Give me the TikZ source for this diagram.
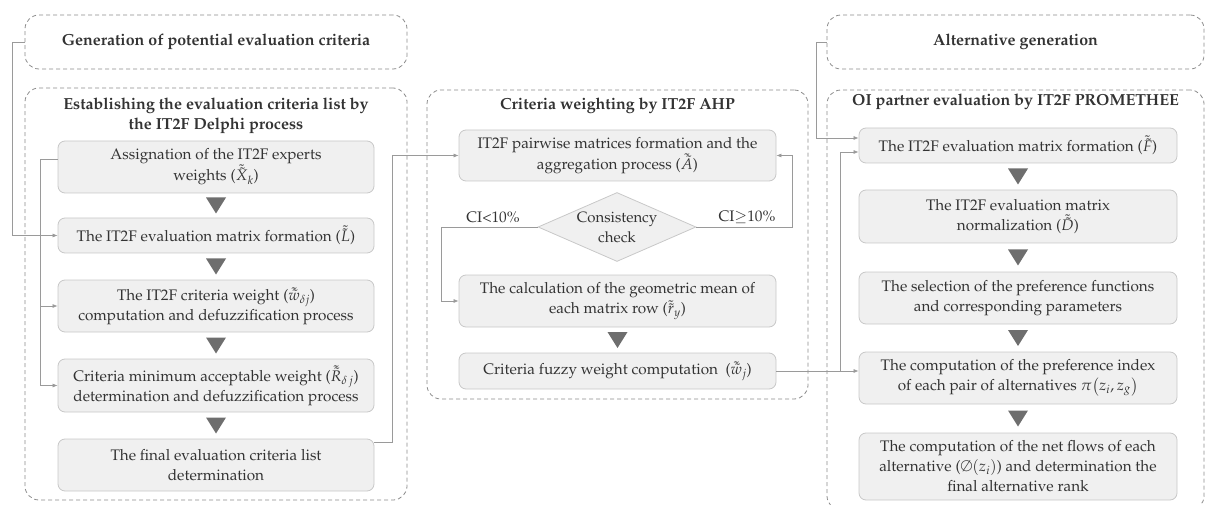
\documentclass[tikz,border=0pt]{standalone}
\usepackage[T1]{fontenc}
\usepackage{mathpazo}
\usepackage{amssymb}
\usetikzlibrary{shapes.geometric,arrows.meta,calc}
\definecolor{boxfill}{HTML}{F0F0F0}
\definecolor{boxline}{HTML}{C8C8C8}
\definecolor{tricol}{HTML}{6E6E6E}
\definecolor{dashcol}{HTML}{8C8C8C}
\definecolor{conncol}{HTML}{9A9A9A}
\definecolor{txtcol}{HTML}{333333}
\newcommand\tridown[2]{%
  \fill[tricol] ($(#1.south)!0.5!(#2.north)+(-10,-8)$) -- ($(#1.south)!0.5!(#2.north)+(10,-8)$) -- ($(#1.south)!0.5!(#2.north)+(0,8)$) -- cycle;}
\begin{document}
\begin{tikzpicture}[x=1pt,y=-1pt,
  container/.style={draw=dashcol, dash pattern=on 4pt off 3pt, rounded corners=14pt, line width=0.8pt, inner sep=0pt},
  ttl/.style={text=txtcol, align=center, font=\fontsize{16}{20}\selectfont\bfseries},
  stepbox/.style={draw=boxline, fill=boxfill, rounded corners=7pt, line width=0.8pt, text=txtcol, align=center, font=\fontsize{15.3}{20}\selectfont, inner sep=0pt},
  lbl/.style={text=txtcol, font=\fontsize{15.3}{20}\selectfont},
  conn/.style={draw=conncol, line width=0.7pt},
  arr/.style={conn, -{Latex[length=5pt,width=4pt]}}]
\useasboundingbox (0,0) rectangle (1205,505);
% ---------- left column ----------
\node[container, minimum width=382pt, minimum height=54pt] (gen) at (216,42) {};
\node[ttl] at (gen.center) {Generation of potential evaluation criteria};
\node[container, minimum width=382pt, minimum height=412pt] (cL) at (216,294) {};
\node[ttl] (tL) at (216,116) {Establishing the evaluation criteria list by\\the IT2F Delphi process};
\node[stepbox, minimum width=316pt, minimum height=52pt] (L1) at (216,167) {Assignation of the IT2F experts\\weights ($\tilde{\tilde{X}}_k$)};
\node[stepbox, minimum width=316pt, minimum height=35pt] (L2) at (216,235.5) {The IT2F evaluation matrix formation ($\tilde{\tilde{L}}$)};
\node[stepbox, minimum width=316pt, minimum height=52pt] (L3) at (216,306) {The IT2F criteria weight ($\tilde{\tilde{w}}_{\delta j}$)\\computation and defuzzification process};
\node[stepbox, minimum width=316pt, minimum height=53pt] (L4) at (216,385.5) {Criteria minimum acceptable weight ($\tilde{\tilde{R}}_{\delta\,j}$)\\determination and defuzzification process};
\node[stepbox, minimum width=316pt, minimum height=52pt] (L5) at (216,465) {The final evaluation criteria list\\determination};
\tridown{L1}{L2}
\tridown{L2}{L3}
\tridown{L3}{L4}
\tridown{L4}{L5}
% ---------- middle column ----------
\node[container, minimum width=381pt, minimum height=309pt] (cM) at (617.5,244.5) {};
\node[ttl] (tM) at (617.5,106) {Criteria weighting by IT2F AHP};
\node[stepbox, minimum width=317pt, minimum height=51pt] (A) at (617.5,155.5) {IT2F pairwise matrices formation and the\\aggregation process ($\tilde{\tilde{A}}$)};
\node[diamond, draw=boxline, fill=boxfill, line width=0.8pt, minimum width=158pt, minimum height=69pt, inner sep=0pt] (chk) at (617,227) {};
\node[text=txtcol, align=center, font=\fontsize{15}{20}\selectfont] (chkt) at (chk.center) {Consistency\\check};
\node[stepbox, minimum width=317pt, minimum height=52pt] (C) at (617.5,301) {The calculation of the geometric mean of\\each matrix row ($\tilde{\tilde{r}}_y$)};
\node[stepbox, minimum width=317pt, minimum height=36pt] (D) at (617.5,371) {Criteria fuzzy weight computation~ ($\tilde{\tilde{w}}_j$)};
\tridown{C}{D}
\node[lbl] (ci1) at (493,217) {CI\textless10\%};
\node[lbl] (ci2) at (747,217) {CI$\geq$10\%};
% ---------- right column ----------
\node[container, minimum width=377pt, minimum height=54pt] (alt) at (1015.5,42) {};
\node[ttl] at (alt.center) {Alternative generation};
\node[container, minimum width=377pt, minimum height=420pt] (cR) at (1015.5,300) {};
\node[ttl] (tR) at (1015.5,102) {OI partner evaluation by IT2F PROMETHEE};
\node[stepbox, minimum width=318pt, minimum height=35pt] (R1) at (1018,145.5) {The IT2F evaluation matrix formation ($\tilde{\tilde{F}}$)};
\node[stepbox, minimum width=318pt, minimum height=53pt] (R2) at (1018,216.5) {The IT2F evaluation matrix\\normalization ($\tilde{\tilde{D}}$)};
\node[stepbox, minimum width=318pt, minimum height=52pt] (R3) at (1018,298) {The selection of the preference functions\\and corresponding parameters};
\node[stepbox, minimum width=318pt, minimum height=52pt] (R4) at (1018,378) {The computation of the preference index\\of each pair of alternatives $\pi\bigl(z_i, z_g\bigr)$};
\node[stepbox, minimum width=318pt, minimum height=67pt] (R5) at (1018,466.5) {The computation of the net flows of each\\alternative ($\emptyset(z_i)$) and determination the\\final alternative rank};
\tridown{R1}{R2}
\tridown{R2}{R3}
\tridown{R3}{R4}
\tridown{R4}{R5}
% ---------- connectors ----------
\coordinate (j0) at (12,0);
\coordinate (j1) at (40,0);
\coordinate (j2) at (392,0);
\coordinate (j3) at (441,0);
\coordinate (j4) at (792,0);
\coordinate (j5) at (840,0);
\coordinate (j6) at (816,0);
\draw[arr] (gen.west) -- (gen.west -| j0) |- (L2.west);
\draw[arr] ([yshift=8pt]L1.west) -- ([yshift=8pt]L1.west -| j1) |- (L4.west);
\draw[arr] (j1 |- L3.west) -- (L3.west);
\draw[arr] ([yshift=23pt]L5.east) -- ([yshift=23pt]L5.east -| j2) |- (A.west);
\draw[arr] (chk.west) -- (chk.west -| j3) |- (C.west);
\draw[arr] (chk.east) -- (chk.east -| j4) |- (A.east);
\draw[arr] (D.east) -- (D.east -| R4.west);
\draw[arr] (j5 |- D.east) |- ([yshift=-6.5pt]R1.west);
\draw[arr] (alt.west) -- (alt.west -| j6) |- ([yshift=7.5pt]R1.west);
\end{tikzpicture}
\end{document}
